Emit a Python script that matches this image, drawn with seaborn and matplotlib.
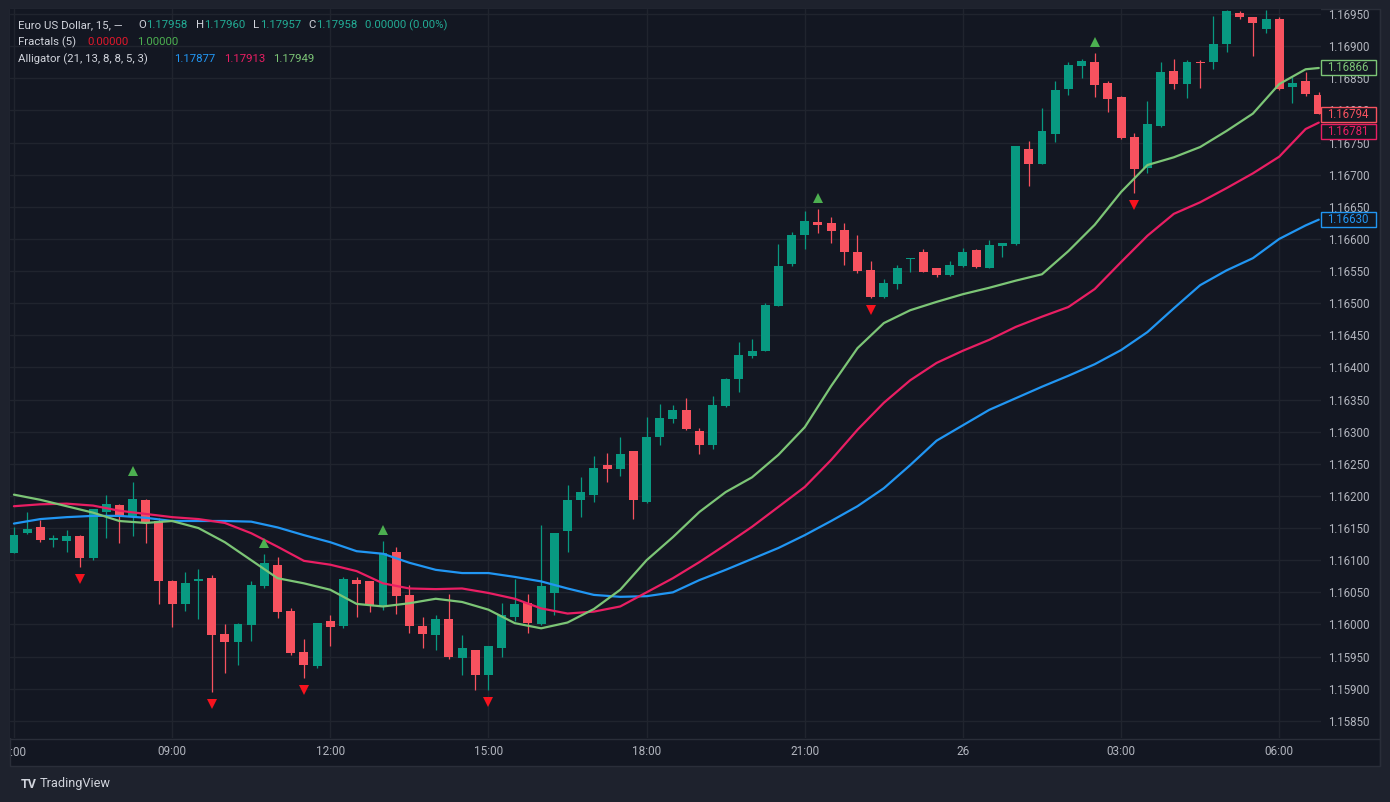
import numpy as np
import pandas as pd
import matplotlib
matplotlib.use("Agg")
import matplotlib.pyplot as plt
import matplotlib.transforms as mtransforms
from matplotlib.patches import Rectangle
import seaborn as sns

# EURUSD 15m candles, 06:00 -> 06:45 next day
opens = [1.16111, 1.16143, 1.16152, 1.16131, 1.16130, 1.16138, 1.16103, 1.16175, 1.16186, 1.16167,
         1.16194, 1.16161, 1.16068, 1.16032, 1.16067, 1.16073, 1.15985, 1.15972, 1.15999, 1.16060,
         1.16093, 1.16021, 1.15957, 1.15935, 1.16005, 1.15998, 1.16069, 1.16068, 1.16027, 1.16112,
         1.16046, 1.15998, 1.15984, 1.16008, 1.15948, 1.15960, 1.15921, 1.15964, 1.16011, 1.16034,
         1.16001, 1.16049, 1.16146, 1.16193, 1.16202, 1.16248, 1.16242, 1.16270, 1.16190, 1.16292,
         1.16319, 1.16333, 1.16301, 1.16279, 1.16340, 1.16382, 1.16418, 1.16426, 1.16496, 1.16561,
         1.16606, 1.16627, 1.16625, 1.16614, 1.16580, 1.16551, 1.16509, 1.16530, 1.16568, 1.16580,
         1.16554, 1.16544, 1.16558, 1.16583, 1.16555, 1.16589, 1.16592, 1.16740, 1.16717, 1.16764,
         1.16833, 1.16869, 1.16876, 1.16843, 1.16821, 1.16758, 1.16711, 1.16775, 1.16862, 1.16841,
         1.16875, 1.16876, 1.16904, 1.16952, 1.16945, 1.16926, 1.16942, 1.16836, 1.16845, 1.16824]
highs = [1.16152, 1.16175, 1.16163, 1.16139, 1.16147, 1.16139, 1.16180, 1.16201, 1.16187, 1.16221,
         1.16195, 1.16165, 1.16069, 1.16081, 1.16087, 1.16077, 1.16001, 1.16002, 1.16068, 1.16109,
         1.16105, 1.16025, 1.15978, 1.16003, 1.16015, 1.16074, 1.16074, 1.16068, 1.16130, 1.16120,
         1.16061, 1.16011, 1.16015, 1.16047, 1.15984, 1.15960, 1.15967, 1.16033, 1.16070, 1.16048,
         1.16155, 1.16143, 1.16217, 1.16229, 1.16262, 1.16267, 1.16291, 1.16270, 1.16323, 1.16343,
         1.16341, 1.16353, 1.16305, 1.16355, 1.16383, 1.16439, 1.16445, 1.16500, 1.16592, 1.16611,
         1.16644, 1.16646, 1.16634, 1.16625, 1.16606, 1.16566, 1.16537, 1.16559, 1.16570, 1.16584,
         1.16555, 1.16566, 1.16586, 1.16584, 1.16599, 1.16594, 1.16745, 1.16752, 1.16803, 1.16845,
         1.16876, 1.16880, 1.16890, 1.16846, 1.16822, 1.16765, 1.16814, 1.16876, 1.16880, 1.16878,
         1.16878, 1.16947, 1.16957, 1.16955, 1.16945, 1.16956, 1.16945, 1.16852, 1.16860, 1.16828]
lows = [1.16111, 1.16141, 1.16129, 1.16120, 1.16113, 1.16090, 1.16101, 1.16134, 1.16126, 1.16138,
        1.16127, 1.16032, 1.15996, 1.16021, 1.16008, 1.15895, 1.15925, 1.15937, 1.15974, 1.16056,
        1.16010, 1.15953, 1.15916, 1.15933, 1.15967, 1.15994, 1.16012, 1.16020, 1.16022, 1.16017,
        1.15986, 1.15964, 1.15961, 1.15947, 1.15921, 1.15898, 1.15898, 1.15950, 1.16006, 1.15986,
        1.15999, 1.16015, 1.16112, 1.16168, 1.16190, 1.16221, 1.16231, 1.16164, 1.16189, 1.16279,
        1.16313, 1.16303, 1.16265, 1.16273, 1.16339, 1.16362, 1.16414, 1.16425, 1.16495, 1.16558,
        1.16584, 1.16609, 1.16594, 1.16559, 1.16547, 1.16508, 1.16508, 1.16522, 1.16549, 1.16548,
        1.16541, 1.16543, 1.16557, 1.16555, 1.16554, 1.16572, 1.16591, 1.16682, 1.16716, 1.16751,
        1.16824, 1.16850, 1.16821, 1.16798, 1.16755, 1.16672, 1.16702, 1.16774, 1.16834, 1.16819,
        1.16835, 1.16864, 1.16891, 1.16943, 1.16885, 1.16920, 1.16831, 1.16811, 1.16822, 1.16794]
closes = [1.16139, 1.16149, 1.16131, 1.16135, 1.16138, 1.16104, 1.16179, 1.16187, 1.16168, 1.16195,
          1.16158, 1.16068, 1.16032, 1.16064, 1.16071, 1.15983, 1.15973, 1.16001, 1.16061, 1.16095,
          1.16020, 1.15956, 1.15937, 1.16002, 1.15996, 1.16071, 1.16063, 1.16030, 1.16111, 1.16045,
          1.15998, 1.15985, 1.16008, 1.15949, 1.15963, 1.15921, 1.15967, 1.16014, 1.16032, 1.16003,
          1.16060, 1.16143, 1.16194, 1.16206, 1.16243, 1.16242, 1.16266, 1.16193, 1.16291, 1.16321,
          1.16334, 1.16304, 1.16279, 1.16341, 1.16382, 1.16419, 1.16426, 1.16497, 1.16558, 1.16606,
          1.16628, 1.16621, 1.16612, 1.16579, 1.16550, 1.16509, 1.16532, 1.16554, 1.16569, 1.16549,
          1.16544, 1.16559, 1.16580, 1.16557, 1.16591, 1.16593, 1.16744, 1.16717, 1.16768, 1.16831,
          1.16871, 1.16877, 1.16840, 1.16818, 1.16757, 1.16709, 1.16779, 1.16859, 1.16841, 1.16875,
          1.16874, 1.16903, 1.16955, 1.16945, 1.16936, 1.16942, 1.16834, 1.16842, 1.16825, 1.16794]

fractal_up = [9, 19, 28, 61, 82]
fractal_down = [5, 15, 22, 36, 65, 85]

# Alligator lines, read every 2 bars (last bar too)
line_idx = list(range(0, 100, 2)) + [99]
jaw = [1.16157, 1.16164, 1.16167, 1.16169, 1.16169, 1.16166, 1.16161, 1.16161, 1.16161, 1.16160,
       1.16151, 1.16139, 1.16128, 1.16114, 1.16110, 1.16096, 1.16085, 1.16080, 1.16080, 1.16074,
       1.16067, 1.16056, 1.16046, 1.16043, 1.16044, 1.16050, 1.16069, 1.16085, 1.16102, 1.16119,
       1.16139, 1.16161, 1.16184, 1.16212, 1.16248, 1.16286, 1.16310, 1.16334, 1.16352, 1.16370,
       1.16387, 1.16405, 1.16427, 1.16455, 1.16492, 1.16528, 1.16551, 1.16570, 1.16600, 1.16621,
       1.16630]
teeth = [1.16184, 1.16187, 1.16188, 1.16185, 1.16177, 1.16172, 1.16167, 1.16164, 1.16158, 1.16142,
         1.16121, 1.16099, 1.16093, 1.16083, 1.16064, 1.16056, 1.16055, 1.16056, 1.16049, 1.16040,
         1.16025, 1.16017, 1.16020, 1.16028, 1.16050, 1.16072, 1.16097, 1.16124, 1.16152, 1.16183,
         1.16214, 1.16256, 1.16303, 1.16345, 1.16380, 1.16407, 1.16426, 1.16443, 1.16463, 1.16479,
         1.16494, 1.16522, 1.16564, 1.16605, 1.16639, 1.16657, 1.16679, 1.16702, 1.16728, 1.16771,
         1.16781]
lips = [1.16202, 1.16194, 1.16184, 1.16174, 1.16161, 1.16158, 1.16161, 1.16150, 1.16128, 1.16100,
        1.16072, 1.16064, 1.16054, 1.16032, 1.16028, 1.16033, 1.16040, 1.16035, 1.16023, 1.16002,
        1.15994, 1.16003, 1.16024, 1.16054, 1.16100, 1.16136, 1.16175, 1.16206, 1.16229, 1.16264,
        1.16307, 1.16371, 1.16430, 1.16469, 1.16489, 1.16502, 1.16514, 1.16524, 1.16535, 1.16545,
        1.16581, 1.16622, 1.16673, 1.16715, 1.16727, 1.16743, 1.16768, 1.16795, 1.16841, 1.16864,
        1.16866]

time_idx = [0, 12, 24, 36, 48, 60, 72, 84, 96]
time_labels = ["06:00", "09:00", "12:00", "15:00", "18:00", "21:00", "26", "03:00", "06:00"]
price_ticks = [1.15850, 1.15900, 1.15950, 1.16000, 1.16050, 1.16100, 1.16150, 1.16200, 1.16250,
               1.16300, 1.16350, 1.16400, 1.16450, 1.16500, 1.16550, 1.16600, 1.16650, 1.16700,
               1.16750, 1.16800, 1.16850, 1.16900, 1.16950]

# colours
W, H = 1390, 802
BG = "#131722"
FRAME = "#1e222d"
GRID = "#20242e"
TXT = "#b2b5be"
LEG = "#d1d4dc"
UP = "#089981"
DOWN = "#f7525f"
JAW = "#2196f3"
TEETH = "#e91e63"
LIPS = "#7cc576"

sns.set_style("dark", {"axes.facecolor": BG, "figure.facecolor": FRAME,
                       "grid.color": GRID, "axes.edgecolor": BG})
plt.rcParams["font.family"] = ["Roboto", "DejaVu Sans"]

fig = plt.figure(figsize=(W / 100, H / 100), dpi=100)
fig.add_artist(Rectangle((10 / W, 1 - 766 / H), 1370 / W, 757 / H, transform=fig.transFigure,
                         facecolor=BG, edgecolor="#2a2e39", lw=1, zorder=-5))
ax = fig.add_axes([10 / W, 1 - 738 / H, 1310.5 / W, 729 / H])
ax.set_facecolor(BG)

# candles
df = pd.DataFrame({"o": opens, "h": highs, "l": lows, "c": closes})
df["i"] = np.arange(len(df))
colors = np.where(df["c"] >= df["o"], UP, DOWN)
ax.vlines(df["i"], df["l"], df["h"], colors=colors, lw=0.9, zorder=3)
body = (df["c"] - df["o"]).abs().clip(lower=0.000018)
ax.bar(df["i"], body, bottom=df[["o", "c"]].min(axis=1), width=0.68, color=colors, lw=0, zorder=4)

# alligator
sns.lineplot(x=line_idx, y=jaw, color=JAW, lw=1.6, ax=ax, zorder=5)
sns.lineplot(x=line_idx, y=teeth, color=TEETH, lw=1.6, ax=ax, zorder=5)
sns.lineplot(x=line_idx, y=lips, color=LIPS, lw=1.6, ax=ax, zorder=5)

# fractals
up_tr = mtransforms.offset_copy(ax.transData, fig=fig, x=0, y=11, units="dots")
dn_tr = mtransforms.offset_copy(ax.transData, fig=fig, x=0, y=-12, units="dots")
ax.plot(fractal_up, [highs[i] for i in fractal_up], ls="none", marker="^", ms=6.5,
        color="#4caf50", mew=0, transform=up_tr, zorder=6)
ax.plot(fractal_down, [lows[i] for i in fractal_down], ls="none", marker="v", ms=6.5,
        color="#f7131e", mew=0, transform=dn_tr, zorder=6)

# axes
ax.set_xlim(-0.3, 99.13)
ax.set_ylim(1.158233, 1.169578)
ax.set_yticks(price_ticks)
ax.set_yticklabels([f"{p:.5f}" for p in price_ticks])
ax.yaxis.tick_right()
ax.set_xticks(time_idx)
ax.set_xticklabels([""] + time_labels[1:])
ax.tick_params(axis="y", length=0, pad=5.5, labelsize=8.3, labelcolor=TXT)
ax.tick_params(axis="x", length=0, pad=10, labelsize=8.5, labelcolor=TXT)
plt.setp(ax.get_xticklabels(), va="center")
ax.grid(True, color=GRID, lw=1)
ax.set_xlabel("")
ax.set_ylabel("")
for s in ax.spines.values():
    s.set_visible(False)

# first time label cut off by the left edge
t0 = fig.text(12 / W, 1 - 752 / H, time_labels[0], ha="center", va="center", fontsize=8.5, color=TXT)
t0.set_clip_on(True)
t0.set_clip_box(mtransforms.Bbox.from_extents(11, 0, W, H))

# separators
fig.add_artist(plt.Line2D([10 / W, 1380 / W], [1 - 738.5 / H, 1 - 738.5 / H], color="#2a2e39", lw=1))
fig.add_artist(plt.Line2D([1380 / W, 1380 / W], [1 - 9 / H, 1 - 766 / H], color="#2a2e39", lw=1))

# legend lines
TEAL_TXT = "#22ab94"
legend_runs = [
    (25, [("Euro US Dollar, 15, \u2014", 18, LEG), ("O", 138, LEG), ("1.17958", 146.5, TEAL_TXT),
          ("H", 196, LEG), ("1.17960", 204, TEAL_TXT), ("L", 253, LEG), ("1.17957", 260.5, TEAL_TXT),
          ("C", 308, LEG), ("1.17958", 316.5, TEAL_TXT), ("0.00000 (0.00%)", 365, TEAL_TXT)]),
    (42, [("Fractals (5)", 18, LEG), ("0.00000", 87, "#e0182b"), ("1.00000", 137, "#4caf50")]),
    (59, [("Alligator (21, 13, 8, 8, 5, 3)", 18, LEG), ("1.17877", 174, JAW),
          ("1.17913", 224, TEETH), ("1.17949", 273, LIPS)]),
]
for y, runs in legend_runs:
    for txt, x, col in runs:
        fig.text(x / W, 1 - y / H, txt, ha="left", va="center", fontsize=8.2, color=col)

# last value boxes on the price scale
box_vals = [lips[-1], closes[-1], teeth[-1], jaw[-1]]
box_cols = [LIPS, DOWN, TEETH, JAW]
box_shift = [0, 0, 8.5, 0]
for val, col, dy in zip(box_vals, box_cols, box_shift):
    yd = ax.transData.transform((0, val))[1] - dy
    fig.add_artist(Rectangle((1320.5 / W, (yd - 7.5) / H), 55.5 / W, 15 / H, transform=fig.transFigure,
                             facecolor=BG, edgecolor=col, lw=1, zorder=5))
    fig.text(1348 / W, yd / H, f"{val:.5f}", ha="center", va="center", fontsize=8.3, color=col, zorder=6)

# footer logo
fig.text(21 / W, 1 - 784 / H, "TV", ha="left", va="center", fontsize=9, fontweight="bold", color=LEG)
fig.text(40 / W, 1 - 784 / H, "TradingView", ha="left", va="center", fontsize=9.2, color=LEG)

fig.savefig("out.png", dpi=100, facecolor=FRAME)
